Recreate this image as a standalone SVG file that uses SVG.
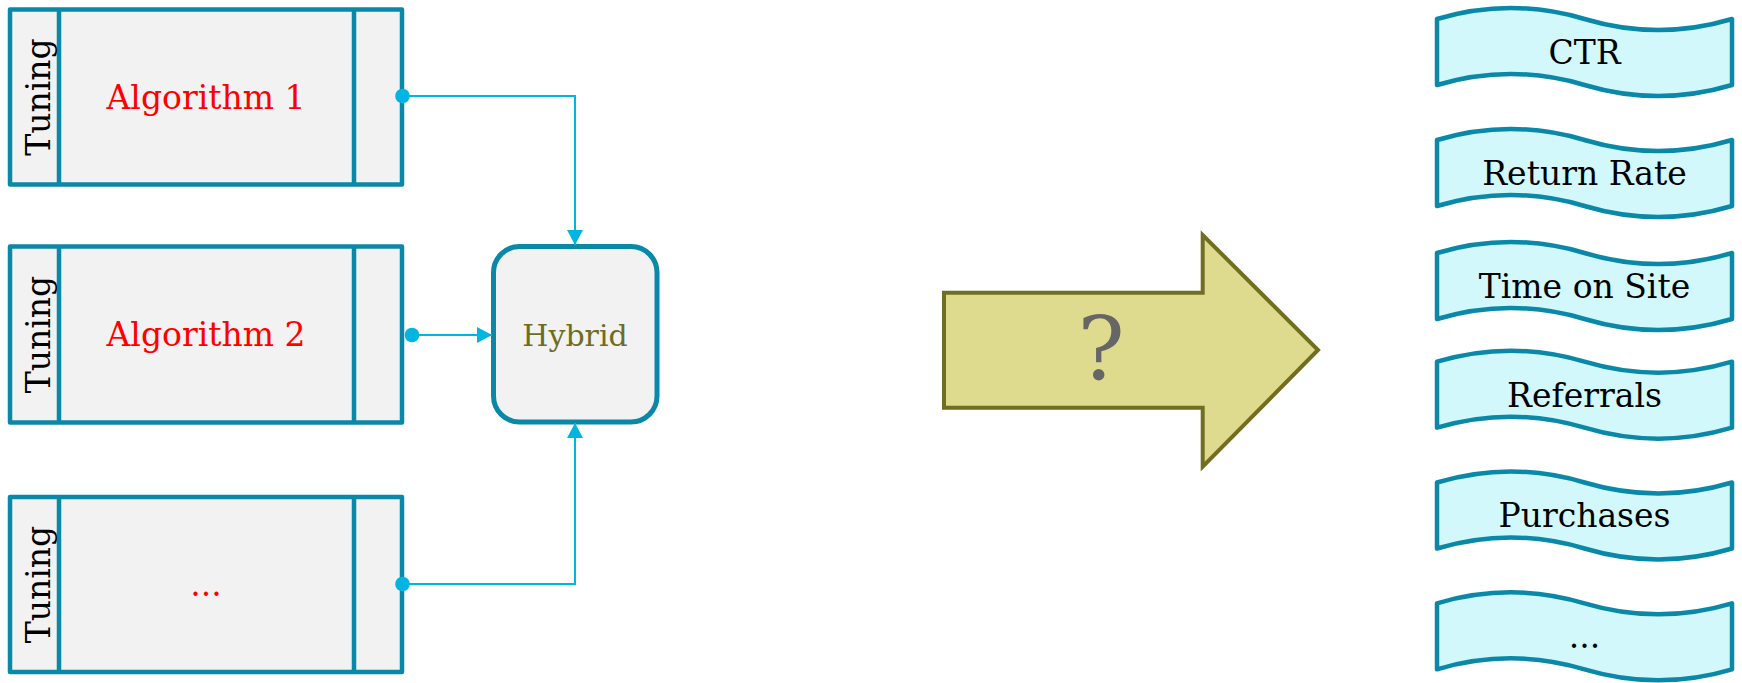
<svg xmlns="http://www.w3.org/2000/svg" width="1742" height="683" viewBox="0 0 1742 683">
<style>
.box{fill:#F2F2F2;stroke:#0A88A8;stroke-width:4.5;stroke-linejoin:round}
.div{stroke:#0A88A8;stroke-width:4.5;fill:none}
.t{font-family:"DejaVu Serif",serif;font-size:33px;text-anchor:middle}
.red{fill:#FF0000}
.blk{fill:#000000}
.tape{fill:#D2F8FC;stroke:#0A88A8;stroke-width:4.5;stroke-linejoin:round}
.con{fill:none;stroke:#00B5E2;stroke-width:2;marker-start:url(#dot);marker-end:url(#arr)}
</style>
<defs>
<marker id="arr" markerUnits="userSpaceOnUse" markerWidth="16" markerHeight="18" refX="15" refY="8" orient="auto" viewBox="0 0 16 16">
<path d="M0,0 L15,8 L0,16 Z" fill="#00B5E2"/>
</marker>
<marker id="dot" markerUnits="userSpaceOnUse" markerWidth="16" markerHeight="16" refX="8" refY="8" orient="auto" viewBox="0 0 16 16">
<circle cx="8" cy="8" r="7.3" fill="#00B5E2"/>
</marker>
<path id="tapeShape" d="M0,-33 Q73.75,-55 147.5,-33 Q221.25,-11 295,-33 L295,33 Q221.25,55 147.5,33 Q73.75,11 0,33 Z"/>
</defs>

<g id="algo1">
<rect class="box" x="10" y="9.5" width="392" height="175"/>
<line class="div" x1="59" y1="9.5" x2="59" y2="184.5"/>
<line class="div" x1="354" y1="9.5" x2="354" y2="184.5"/>
<text class="t blk" transform="translate(50,97) rotate(-90)">Tuning</text>
<text class="t red" x="206" y="108.5">Algorithm 1</text>
</g>

<g id="algo2">
<rect class="box" x="10" y="246.5" width="392" height="176"/>
<line class="div" x1="59" y1="246.5" x2="59" y2="422.5"/>
<line class="div" x1="354" y1="246.5" x2="354" y2="422.5"/>
<text class="t blk" transform="translate(50,334.5) rotate(-90)">Tuning</text>
<text class="t red" x="206" y="346">Algorithm 2</text>
</g>

<g id="algo3">
<rect class="box" x="10" y="497" width="392" height="175"/>
<line class="div" x1="59" y1="497" x2="59" y2="672"/>
<line class="div" x1="354" y1="497" x2="354" y2="672"/>
<text class="t blk" transform="translate(50,584.5) rotate(-90)">Tuning</text>
<text class="t red" x="206" y="596">...</text>
</g>

<g id="hybrid">
<rect x="493.5" y="246.5" width="163.5" height="175.5" rx="26" ry="26" fill="#F2F2F2" stroke="#0A88A8" stroke-width="5"/>
<text x="575" y="346" font-family="DejaVu Serif, serif" font-size="30" text-anchor="middle" fill="#6F6C1F">Hybrid</text>
</g>

<g id="connectors">
<path class="con" d="M402.5,96 L575,96 L575,245"/>
<path class="con" d="M412,335 L492,335"/>
<path class="con" d="M402.5,584 L575,584 L575,423"/>
</g>

<g id="bigArrow">
<polygon points="944,292.7 1202.7,292.7 1202.7,235 1318,350 1202.7,466.7 1202.7,407.7 944,407.7" fill="#DEDB8E" stroke="#726E21" stroke-width="4"/>
<text x="1101" y="380" font-family="DejaVu Serif, serif" font-size="88" text-anchor="middle" fill="#666666">?</text>
</g>

<g id="m-ctr">
<use href="#tapeShape" class="tape" transform="translate(1437,52)"/>
<text class="t blk" x="1584.5" y="64">CTR</text>
</g>
<g id="m-return">
<use href="#tapeShape" class="tape" transform="translate(1437,173)"/>
<text class="t blk" x="1584.5" y="185">Return Rate</text>
</g>
<g id="m-time">
<use href="#tapeShape" class="tape" transform="translate(1437,286)"/>
<text class="t blk" x="1584.5" y="298">Time on Site</text>
</g>
<g id="m-referrals">
<use href="#tapeShape" class="tape" transform="translate(1437,394.7)"/>
<text class="t blk" x="1584.5" y="406.7">Referrals</text>
</g>
<g id="m-purchases">
<use href="#tapeShape" class="tape" transform="translate(1437,515.5)"/>
<text class="t blk" x="1584.5" y="527">Purchases</text>
</g>
<g id="m-more">
<use href="#tapeShape" class="tape" transform="translate(1437,636.3)"/>
<text class="t blk" x="1584.5" y="648">...</text>
</g>
</svg>
